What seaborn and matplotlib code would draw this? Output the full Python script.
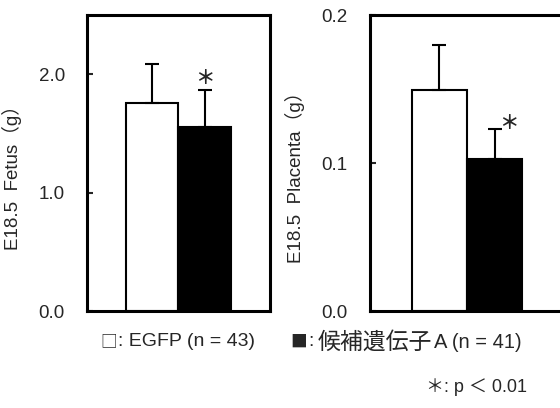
import matplotlib
matplotlib.use("Agg")
import matplotlib.pyplot as plt
import seaborn as sns
import pandas as pd

groups = ["EGFP", "候補遺伝子A"]
fetus_mean = [1.76, 1.55]
fetus_sd = [0.33, 0.32]
placenta_mean = [0.149, 0.103]
placenta_sd = [0.031, 0.020]
colors = ["white", "black"]
fetus_ticks = [0.0, 1.0, 2.0]
placenta_ticks = [0.0, 0.1, 0.2]
n_counts = [43, 41]

sns.set_theme(style="white")
FAM = ["Liberation Sans", "Noto Sans CJK JP", "DejaVu Sans"]
CJK = ["Noto Sans CJK JP", "DejaVu Sans"]
plt.rcParams["font.family"] = FAM

fig = plt.figure(figsize=(5.6, 4.08), dpi=100)
ax1 = fig.add_axes([87/560, 97/408, 183/560, 296/408])
ax2 = fig.add_axes([370/560, 97/408, 194/560, 296/408])

def panel(ax, means, sds, ticks, ylim, label, star_dx, star_dy, lx):
    df = pd.DataFrame({"group": groups, "value": means})
    sns.barplot(data=df, x="group", y="value", hue="group", palette=colors,
                width=1.0, edgecolor="black", linewidth=1.5, legend=False,
                errorbar=None, ax=ax)
    ax.errorbar([0, 1], means, yerr=[[0, 0], sds], fmt="none", ecolor="black",
                elinewidth=1.5, capsize=5, capthick=1.5)
    ax.set_ylim(*ylim)
    ax.set_xlim(-1.25, 2.25)
    ax.set_xticks([])
    ax.set_xlabel("")
    ax.set_yticks(ticks)
    ax.set_yticklabels([f"{t:.1f}" for t in ticks], fontsize=13.5, family=FAM)
    ax.tick_params(axis="y", direction="in", length=4, width=1.5, pad=16, left=True)
    for s in ax.spines.values():
        s.set_linewidth(2.2)
        s.set_color("black")
    ax.set_ylabel(label, fontsize=13.5, family=FAM)
    ax.yaxis.set_label_coords(lx, 0.466)
    ax.text(1 + star_dx, means[1] + sds[1] + star_dy, "＊", ha="center", va="center",
            fontsize=14, fontweight="bold", family=CJK)

panel(ax1, fetus_mean, fetus_sd, fetus_ticks, (0, 2.5), "E18.5  Fetus（g）", 0.0, 0.09, -0.355)
panel(ax2, placenta_mean, placenta_sd, placenta_ticks, (0, 0.2), "E18.5  Placenta（g）", 0.25, 0.004, -0.335)

ly = 1 - 342/408
fig.text(100/560, ly, "□", ha="left", va="center", fontsize=12, family=CJK)
fig.text(118/560, ly, f": {groups[0]} (n = {n_counts[0]})", ha="left", va="center",
         fontsize=14, family=FAM)
fig.text(290/560, ly, "■", ha="left", va="center", fontsize=12, family=CJK)
fig.text(308/560, ly, ":", ha="left", va="center", fontsize=14, family=FAM)
fig.text(318/560, ly, groups[1][:-1], ha="left", va="center", fontsize=16.5, family=CJK)
fig.text(434/560, ly, f"{groups[1][-1]} (n = {n_counts[1]})", ha="left", va="center",
         fontsize=14.5, family=FAM)
fig.text(527/560, 1 - 387/408, "＊: p ＜ 0.01", ha="right", va="center",
         fontsize=13, family=FAM)

fig.savefig("out.png", dpi=100)
